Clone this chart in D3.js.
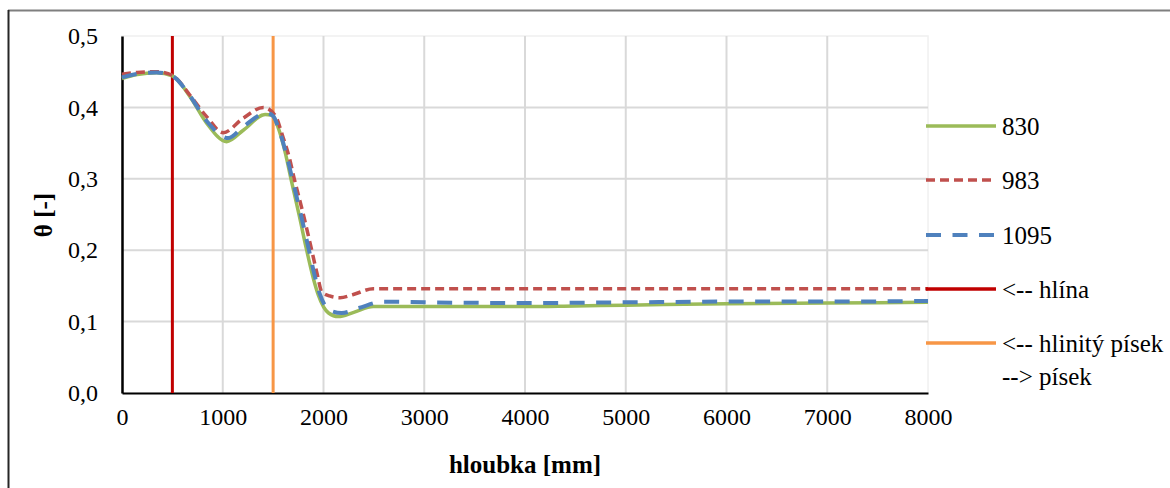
<!DOCTYPE html>
<html><head><meta charset="utf-8">
<script src="https://cdn.jsdelivr.net/npm/d3@7"></script>
<style>
html,body{margin:0;padding:0;background:#fff;}
svg{display:block;}
</style></head>
<body>
<svg id="chart" width="1170" height="488"></svg>
<script>
// ---- data ----
const xTicks = [0,1000,2000,3000,4000,5000,6000,7000,8000];
const yTicks = [0,0.1,0.2,0.3,0.4,0.5];
const yTickLabels = ["0,0","0,1","0,2","0,3","0,4","0,5"];

const depth830 = [0,150,344,500,675,840,1039,1204,1420,1486,1552,1618,1677,1760,1833,1900,1949,2050,2147,2300,2494,3000,4000,4500,5000,6000,7000,8000];
const theta830 = [0.4405,0.446,0.4486,0.444,0.415,0.378,0.352,0.368,0.390,0.389,0.371,0.338,0.300,0.248,0.200,0.160,0.137,0.112,0.107,0.113,0.121,0.121,0.121,0.122,0.123,0.125,0.126,0.127];

const depth983 = [0,150,344,500,675,840,1005,1204,1403,1519,1601,1660,1710,1800,1883,1940,1982,2060,2164,2296,2494,3000,4000,5000,6000,7000,8000];
const theta983 = [0.4465,0.449,0.450,0.445,0.417,0.387,0.3646,0.385,0.400,0.389,0.357,0.330,0.300,0.250,0.200,0.165,0.142,0.136,0.1335,0.138,0.146,0.146,0.146,0.146,0.146,0.146,0.146];

const depth1095 = [0,150,344,500,675,840,1055,1204,1436,1500,1560,1630,1690,1775,1856,1920,1965,2060,2180,2350,2594,3000,4000,5000,6000,7000,8000];
const theta1095 = [0.442,0.447,0.449,0.444,0.416,0.381,0.357,0.373,0.392,0.388,0.368,0.335,0.300,0.250,0.200,0.160,0.138,0.116,0.112,0.119,0.1279,0.127,0.126,0.127,0.128,0.128,0.129];

const boundaryHlina = [500, 500];
const boundaryPisek = [1500, 1500];
const boundaryTheta = [0, 0.5];

const seriesNames = ["830","983","1095","<-- hlína","<-- hlinitý písek"];
const legendExtra = "--> písek";

// ---- layout ----
const FONT = '"Liberation Serif","Times New Roman",Tinos,serif';
const svg = d3.select("#chart");
const L = 122, R = 928, T = 36, B = 393;
const x = d3.scaleLinear().domain([0,8000]).range([L,R]);
const y = d3.scaleLinear().domain([0,0.5]).range([B,T]);

// outer border
svg.append("line").attr("x1",8).attr("x2",1200).attr("y1",10.5).attr("y2",10.5).attr("stroke","#7f7f7f").attr("stroke-width",2);
svg.append("line").attr("x1",8.5).attr("x2",8.5).attr("y1",10).attr("y2",500).attr("stroke","#262626").attr("stroke-width",2);

// plot area faint border
svg.append("rect").attr("x",L).attr("y",T).attr("width",R-L).attr("height",B-T).attr("fill","none").attr("stroke","#f0f0f0").attr("stroke-width",1.5);

// gridlines
svg.append("g").selectAll("line").data(yTicks.filter(d=>d>0 && d<0.5)).join("line")
  .attr("x1",L).attr("x2",R).attr("y1",d=>y(d)).attr("y2",d=>y(d))
  .attr("stroke","#d9d9d9").attr("stroke-width",2);
svg.append("g").selectAll("line").data(xTicks.filter(d=>d>0 && d<8000)).join("line")
  .attr("x1",d=>x(d)).attr("x2",d=>x(d)).attr("y1",T).attr("y2",B)
  .attr("stroke","#d9d9d9").attr("stroke-width",2);

// axes
const xAxis = d3.axisBottom(x).tickValues(xTicks).tickSize(0).tickPadding(15).tickFormat(d3.format("d"));
const gx = svg.append("g").attr("transform",`translate(0,${B})`).call(xAxis);
gx.select(".domain").attr("stroke","#000").attr("stroke-width",2);
gx.selectAll("text").style("font-family",FONT).style("font-size","24px").attr("fill","#000");

const yAxis = d3.axisLeft(y).tickValues(yTicks).tickSize(0).tickPadding(24).tickFormat((d,i)=>yTickLabels[i]);
const gy = svg.append("g").attr("transform",`translate(${L},0)`).call(yAxis);
gy.select(".domain").attr("stroke","#000").attr("stroke-width",2.5);
gy.selectAll("text").style("font-family",FONT).style("font-size","24px").attr("fill","#000");

// boundary lines
const vline = d3.line().x(d=>x(d[0])).y(d=>y(d[1]));
svg.append("path").datum(boundaryHlina.map((v,i)=>[v,boundaryTheta[i]])).attr("d",vline)
  .attr("stroke","#c00000").attr("stroke-width",3).attr("fill","none");
svg.append("path").datum(boundaryPisek.map((v,i)=>[v,boundaryTheta[i]])).attr("d",vline)
  .attr("stroke","#f79646").attr("stroke-width",3).attr("fill","none");

// series
const line = d3.line().x(d=>x(d[0])).y(d=>y(d[1])).curve(d3.curveMonotoneX);
const series = [
  {d:depth830, t:theta830, color:"#9bbb59", dash:null, w:3.5},
  {d:depth983, t:theta983, color:"#c0504d", dash:"9,5", w:3.5},
  {d:depth1095, t:theta1095, color:"#4f81bd", dash:"15,11.5", w:4}
];
series.forEach(s=>{
  svg.append("path").datum(s.d.map((v,i)=>[v,s.t[i]])).attr("d",line)
    .attr("fill","none").attr("stroke",s.color).attr("stroke-width",s.w)
    .attr("stroke-dasharray",s.dash).attr("stroke-linejoin","round");
});

// legend
const legendItems = [
  {name:seriesNames[0], color:"#9bbb59", dash:null, w:3.5},
  {name:seriesNames[1], color:"#c0504d", dash:"9,5", w:3.5},
  {name:seriesNames[2], color:"#4f81bd", dash:"15,11.5", w:4},
  {name:seriesNames[3], color:"#c00000", dash:null, w:3.5},
  {name:seriesNames[4], color:"#f79646", dash:null, w:3.5}
];
const legY = [126,180,235,289,343];
const lg = svg.append("g");
legendItems.forEach((it,i)=>{
  lg.append("line").attr("x1",926).attr("x2",996).attr("y1",legY[i]).attr("y2",legY[i])
    .attr("stroke",it.color).attr("stroke-width",it.w).attr("stroke-dasharray",it.dash);
  lg.append("text").attr("x",1002).attr("y",legY[i]).attr("dy","0.35em")
    .style("font-family",FONT).style("font-size","25px").text(it.name);
});
lg.append("text").attr("x",1002).attr("y",376).attr("dy","0.35em")
  .style("font-family",FONT).style("font-size","25px").text(legendExtra);

// axis titles
svg.append("text").attr("x",525).attr("y",473).attr("text-anchor","middle")
  .style("font-family",FONT).style("font-size","25px").style("font-weight","bold").text("hloubka [mm]");
svg.append("text").attr("transform","translate(52,215) rotate(-90)").attr("text-anchor","middle")
  .style("font-family",FONT).style("font-size","25px").style("font-weight","bold").text("θ [-]");
</script>
</body></html>
